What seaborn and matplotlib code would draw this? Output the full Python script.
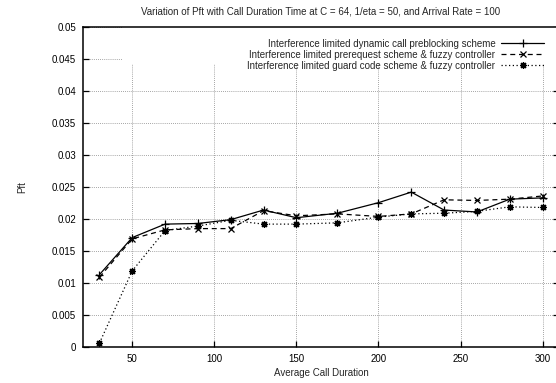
import pandas as pd
import matplotlib
matplotlib.use("Agg")
import matplotlib.pyplot as plt
import seaborn as sns
from matplotlib.patches import Rectangle

# call duration (x) and Pft values for the three schemes
durations = [30, 50, 70, 90, 110, 130, 150, 175, 200, 220, 240, 260, 280, 300]
preblocking = [0.0113, 0.0171, 0.0192, 0.0193, 0.0199, 0.0214, 0.0202, 0.0209,
               0.02255, 0.0242, 0.0214, 0.0211, 0.0231, 0.0233]
prerequest = [0.0109, 0.0169, 0.0183, 0.0185, 0.0185, 0.0213, 0.0205, 0.0208,
              0.0204, 0.0208, 0.0230, 0.0229, 0.0231, 0.0236]
guardcode = [0.0006, 0.0119, 0.0182, 0.0189, 0.0198, 0.0192, 0.0192, 0.0194,
             0.0203, 0.0208, 0.0209, 0.0212, 0.0219, 0.0218]

labels = ["Interference limited dynamic call preblocking scheme",
          "Interference limited prerequest scheme & fuzzy controller",
          "Interference limited guard code scheme & fuzzy controller"]
xticks = [50, 100, 150, 200, 250, 300]
yticks = [0, 0.005, 0.01, 0.015, 0.02, 0.025, 0.03, 0.035, 0.04, 0.045, 0.05]

sns.set_style("ticks")
plt.rcParams['font.family'] = ['Liberation Sans', 'DejaVu Sans']
plt.rcParams['font.size'] = 7

df = pd.DataFrame({'duration': durations, 'pre': preblocking,
                   'req': prerequest, 'guard': guardcode})

fig = plt.figure(figsize=(5.56, 3.83), dpi=100)
ax = fig.add_axes([83 / 556, 1 - 347 / 383, 476 / 556, 320 / 383])

styles = [('pre', '-', '+', 6), ('req', (0, (4, 3)), 'x', 4), ('guard', (0, (1, 2)), (8, 2, 0), 5)]
for (col, ls, mk, ms), lab in zip(styles, labels):
    sns.lineplot(data=df, x='duration', y=col, ax=ax, color='black', label=lab, zorder=3)
    line = ax.lines[-1]
    line.set_linestyle(ls)
    line.set_linewidth(0.9)
    line.set_marker(mk)
    line.set_markersize(ms)
    line.set_markeredgecolor('black')
    line.set_markerfacecolor('black')
    line.set_markeredgewidth(0.9)

ax.set_xlim(20, 310)
ax.set_ylim(0, 0.05)
ax.set_xticks(xticks)
ax.set_yticks(yticks)
ax.yaxis.set_major_formatter(plt.FuncFormatter(lambda v, _: '%g' % round(v, 4)))
ax.grid(True, color='#888888', linestyle=(0, (1, 1.5)), linewidth=0.6)
ax.set_axisbelow(True)
ax.tick_params(direction='in', top=True, right=True, length=4, width=0.9,
               labelsize=7, pad=5, colors='black')
for s in ax.spines.values():
    s.set_linewidth(1.1)
    s.set_color('black')

# gnuplot-style opaque key area
ax.add_patch(Rectangle((0.084, 0.884), 0.916, 0.116, transform=ax.transAxes,
                       facecolor='white', edgecolor='none', zorder=1))

ax.set_title('Variation of Pft with Call Duration Time at C = 64, 1/eta = 50, and Arrival Rate = 100',
             fontsize=7, pad=9)
ax.set_xlabel('Average Call Duration', fontsize=7, labelpad=3)
ax.set_ylabel('Pft', fontsize=7, labelpad=18)

leg = ax.legend(loc='upper right', bbox_to_anchor=(0.983, 0.985), frameon=False,
                markerfirst=False, fontsize=7, handlelength=4.4, handletextpad=0.6,
                labelspacing=0.1, borderpad=0.2)

fig.savefig('out.png', dpi=100)
